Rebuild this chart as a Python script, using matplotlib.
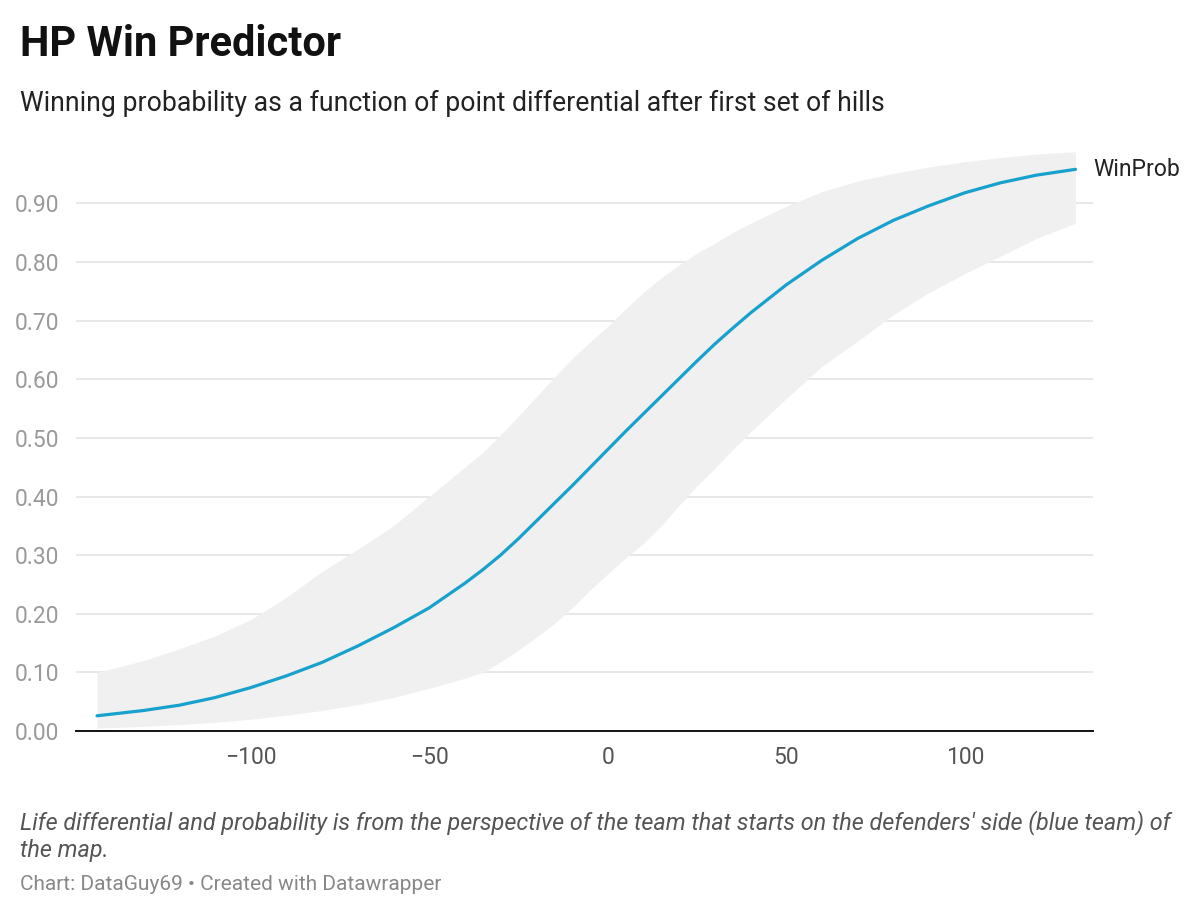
import matplotlib
matplotlib.use("Agg")
import matplotlib.pyplot as plt
from matplotlib.ticker import FormatStrFormatter

plt.rcParams["font.family"] = ["Roboto", "DejaVu Sans"]

# ----------------------------------------------------------
# Data
# ----------------------------------------------------------
diff = [-143, -130, -120, -110, -100, -90, -80, -70, -60, -50, -40, -35,
        -30, -25, -20, -15, -10, -5, 0, 5, 10, 15, 20, 25, 30, 35, 40, 50,
        60, 70, 80, 90, 100, 110, 120, 131]

win_prob = [0.026, 0.035, 0.044, 0.057, 0.074, 0.094, 0.117, 0.145, 0.176,
            0.21, 0.252, 0.275, 0.30, 0.328, 0.358, 0.388, 0.418, 0.449,
            0.48, 0.511, 0.541, 0.571, 0.601, 0.631, 0.66, 0.687, 0.713,
            0.761, 0.803, 0.84, 0.871, 0.896, 0.918, 0.935, 0.948, 0.958]

upper = [0.10, 0.12, 0.14, 0.162, 0.19, 0.228, 0.272, 0.31, 0.35, 0.40,
         0.45, 0.475, 0.505, 0.537, 0.57, 0.603, 0.635, 0.663, 0.69, 0.72,
         0.748, 0.773, 0.795, 0.815, 0.832, 0.85, 0.866, 0.895, 0.92,
         0.938, 0.951, 0.962, 0.971, 0.978, 0.984, 0.988]

lower = [0.005, 0.008, 0.011, 0.015, 0.020, 0.027, 0.035, 0.045, 0.057,
         0.073, 0.09, 0.10, 0.118, 0.138, 0.16, 0.183, 0.21, 0.24, 0.268,
         0.295, 0.32, 0.35, 0.385, 0.418, 0.448, 0.48, 0.51, 0.567, 0.622,
         0.665, 0.71, 0.748, 0.78, 0.81, 0.84, 0.866]

x_ticks = [-100, -50, 0, 50, 100]
y_ticks = [0.0, 0.1, 0.2, 0.3, 0.4, 0.5, 0.6, 0.7, 0.8, 0.9]

LINE_COLOR = "#18a1cd"

# ----------------------------------------------------------
# Figure
# ----------------------------------------------------------
fig = plt.figure(figsize=(12, 9.17), dpi=100)
ax = fig.add_axes([0.0633, 0.2028, 0.8475, 0.6394])

ax.fill_between(diff, lower, upper, color="#f0f0f0", linewidth=0, zorder=1)
ax.plot(diff, win_prob, color=LINE_COLOR, linewidth=2.3,
        solid_capstyle="round", solid_joinstyle="round", zorder=3)

ax.set_xlim(-148.9, 135.9)
ax.set_ylim(0, 1.0)

ax.set_xticks(x_ticks)
ax.set_yticks(y_ticks)
ax.yaxis.set_major_formatter(FormatStrFormatter("%.2f"))
ax.grid(axis="y", color="#e2e2e2", linewidth=1.1, zorder=0)
ax.set_axisbelow(True)

for s in ["top", "right", "left"]:
    ax.spines[s].set_visible(False)
ax.spines["bottom"].set_color("#111111")
ax.spines["bottom"].set_linewidth(1.4)
ax.spines["bottom"].set_zorder(4)

ax.tick_params(axis="both", length=0)
ax.tick_params(axis="y", labelsize=16.5, labelcolor="#9a9a9a", pad=12)
ax.tick_params(axis="x", labelsize=16.5, labelcolor="#555555", pad=11)

# series label at the end of the line
ax.text(1.0, 0.958, "WinProb", transform=ax.get_yaxis_transform(),
        ha="left", va="center", fontsize=16.5, color="#222222")

# ----------------------------------------------------------
# Titles and notes
# ----------------------------------------------------------
fig.text(20 / 1200, 1 - 44 / 917, "HP Win Predictor", fontsize=30,
         fontweight="bold", color="#111111", ha="left", va="center")
fig.text(20 / 1200, 1 - 103 / 917,
         "Winning probability as a function of point differential after first set of hills",
         fontsize=19.2, color="#222222", ha="left", va="center")

fig.text(20 / 1200, 1 - 836 / 917,
         "Life differential and probability is from the perspective of the team that starts on the defenders' side (blue team) of\nthe map.",
         fontsize=16.8, style="italic", color="#555555", ha="left", va="center",
         linespacing=1.25)
fig.text(20 / 1200, 1 - 885 / 917,
         "Chart: DataGuy69 \u2022 Created with Datawrapper",
         fontsize=15, color="#888888", ha="left", va="center")

fig.savefig("out.png", dpi=100, facecolor="white")
plt.close(fig)
